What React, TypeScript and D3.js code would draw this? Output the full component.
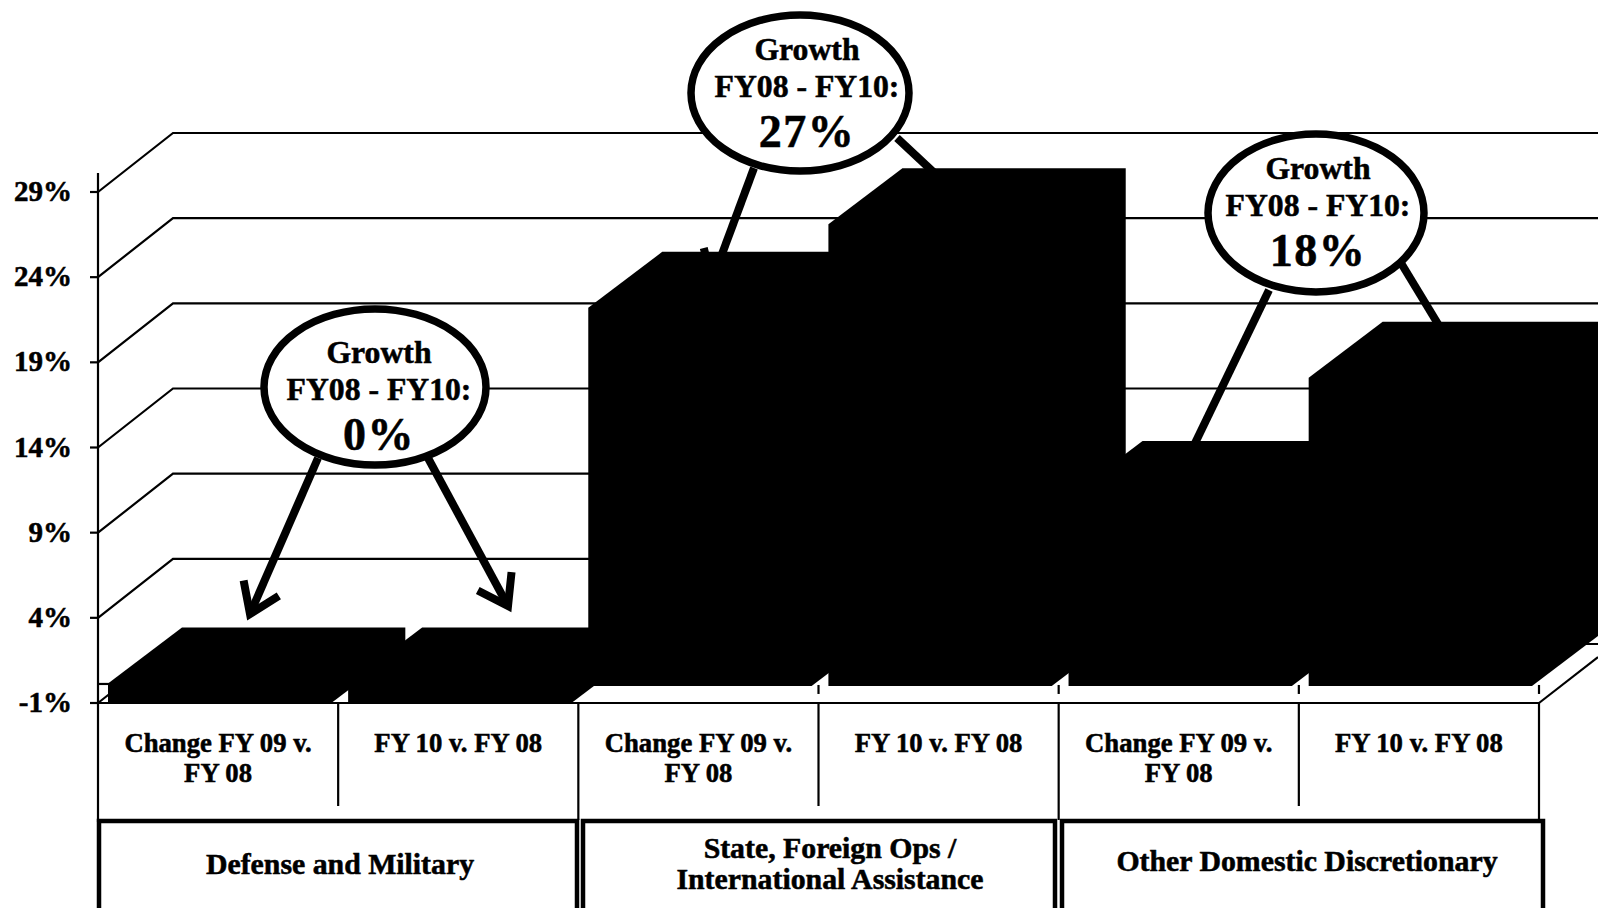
import React from "react";
import * as d3 from "d3";

const barCategories = ["def09", "def10", "state09", "state10", "other09", "other10"];
const barTops = [0.15, 0.15, 22.2, 27.1, 11.1, 18.1];
const barBases = [-1, -1, 0, 0, 0, 0];
const tickValues = [-1, 4, 9, 14, 19, 24, 29];
const categoryLabels = [
  ["Change FY 09 v.", "FY 08"],
  ["FY 10 v. FY 08"],
  ["Change FY 09 v.", "FY 08"],
  ["FY 10 v. FY 08"],
  ["Change FY 09 v.", "FY 08"],
  ["FY 10 v. FY 08"],
];
const groupNames = [
  ["Defense and Military"],
  ["State, Foreign Ops /", "International Assistance"],
  ["Other Domestic Discretionary"],
];
const growthLabels = ["0%", "27%", "18%"];

const W = 1598;
const H = 908;
const FONT = "'Liberation Serif', serif";
const DX = 74;
const DY = -56;
const TEXT_STROKE = 0.55;

const y = d3.scaleLinear().domain([-1, 29]).range([703, 192]);
const xBars = d3.scaleBand<string>().domain(barCategories).range([108, 1532]).paddingInner(0.07).paddingOuter(0);
const xCells = d3.scaleBand<string>().domain(barCategories).range([98, 1539]).padding(0);

const bubbles = [
  { cx: 375, cy: 387, rx: 111, ry: 78, tx: 4, ty: 9 },
  { cx: 800, cy: 93, rx: 109, ry: 78, tx: 7, ty: 0 },
  { cx: 1316, cy: 213, rx: 108, ry: 79, tx: 2, ty: -1 },
];
const arrows = [
  [[318, 458], [250, 614]],
  [[428, 458], [508, 606]],
  [[754, 168], [712, 281]],
  [[897, 138], [990, 225]],
  [[1269, 290], [1170, 495]],
  [[1401, 263], [1475, 385]],
];
const groupBoxes = [
  { x0: 99, x1: 577 },
  { x0: 583, x1: 1055 },
  { x0: 1062, x1: 1543 },
];
const groupLabelPos = [
  { x: 340, y: 865 },
  { x: 830, y: 849 },
  { x: 1307, y: 862 },
];

function barPath(i: number) {
  const x0 = xBars(barCategories[i])!;
  const x1 = x0 + xBars.bandwidth();
  const top = y(barTops[i]);
  const bottom = y(barBases[i]);
  const p = d3.path();
  p.moveTo(x0, bottom);
  p.lineTo(x0, top);
  p.lineTo(x0 + DX, top + DY);
  p.lineTo(x1 + DX, top + DY);
  p.lineTo(x1 + DX, bottom + DY);
  p.lineTo(x1, bottom);
  p.closePath();
  return p.toString();
}

function arrowHead(a: number[][]) {
  const [[x0, y0], [x1, y1]] = a;
  const ang = Math.atan2(y0 - y1, x0 - x1);
  const len = 34;
  const sp = 0.6;
  const p = d3.path();
  p.moveTo(x1 + len * Math.cos(ang + sp), y1 + len * Math.sin(ang + sp));
  p.lineTo(x1, y1);
  p.lineTo(x1 + len * Math.cos(ang - sp), y1 + len * Math.sin(ang - sp));
  return p.toString();
}

const textStyle = { stroke: "#000", strokeWidth: TEXT_STROKE };

export default function App() {
  return (
    <svg
      width={W}
      height={H}
      viewBox={`0 0 ${W} ${H}`}
      style={{ position: "absolute", left: 0, top: 0, display: "block", background: "#fff" }}
    >
      {/* back wall grid */}
      {tickValues.map((t) => (
        <g key={t} stroke="#000" strokeWidth={2.2} fill="none">
          <line x1={90} x2={98} y1={y(t)} y2={y(t)} />
          <path d={`M98,${y(t)} L${98 + DX + 1},${y(t) + DY - 3} L${W},${y(t) + DY - 3}`} />
        </g>
      ))}
      <line x1={98} x2={98} y1={173} y2={822} stroke="#000" strokeWidth={2.2} />
      <line x1={98} x2={110} y1={y(0) - 2} y2={y(0) - 2} stroke="#000" strokeWidth={2.2} />

      {/* tick labels */}
      {tickValues.map((t) => (
        <text
          key={t}
          x={72}
          y={y(t) + 9}
          textAnchor="end"
          fontFamily={FONT}
          fontWeight="bold"
          fontSize={29}
          fill="#000"
          style={textStyle}
        >
          {t}%
        </text>
      ))}

      {/* bars */}
      {barTops.map((_, i) => (
        <path key={barCategories[i]} d={barPath(i)} fill="#000" />
      ))}

      {/* floor ticks */}
      {barCategories.slice(2).map((c) => (
        <line
          key={c}
          x1={xCells(c)! + xCells.bandwidth()}
          x2={xCells(c)! + xCells.bandwidth()}
          y1={y(0) - 1}
          y2={y(0) + 8}
          stroke="#000"
          strokeWidth={2.2}
        />
      ))}

      {/* floor front and right edge */}
      <line x1={98} x2={1539} y1={703} y2={703} stroke="#000" strokeWidth={2.2} />
      <line x1={1539} x2={W} y1={703} y2={657} stroke="#000" strokeWidth={2.2} />

      {/* category cells */}
      {barCategories.map((c, i) => {
        const x = xCells(c)! + xCells.bandwidth();
        const long = i % 2 === 1;
        return <line key={c} x1={x} x2={x} y1={703} y2={long ? 820 : 806} stroke="#000" strokeWidth={2.2} />;
      })}
      {categoryLabels.map((lines, i) => (
        <text
          key={i}
          x={xCells(barCategories[i])! + xCells.bandwidth() / 2}
          fontFamily={FONT}
          fontWeight="bold"
          fontSize={26.7}
          textAnchor="middle"
          fill="#000"
          style={textStyle}
        >
          {lines.map((l, j) => (
            <tspan key={j} x={xCells(barCategories[i])! + xCells.bandwidth() / 2} y={752 + j * 30}>
              {l}
            </tspan>
          ))}
        </text>
      ))}

      {/* group boxes */}
      {groupBoxes.map((b, i) => (
        <path
          key={i}
          d={`M${b.x0},${H + 5} L${b.x0},821 L${b.x1},821 L${b.x1},${H + 5}`}
          fill="#fff"
          stroke="#000"
          strokeWidth={4.5}
        />
      ))}
      {groupNames.map((lines, i) => (
        <text
          key={i}
          fontFamily={FONT}
          fontWeight="bold"
          fontSize={29.8}
          textAnchor="middle"
          fill="#000"
          style={textStyle}
        >
          {lines.map((l, j) => (
            <tspan key={j} x={groupLabelPos[i].x} y={groupLabelPos[i].y + 9 + j * 31}>
              {l}
            </tspan>
          ))}
        </text>
      ))}

      {/* arrows */}
      {arrows.map((a, i) => (
        <g key={i} fill="none" stroke="#000" strokeWidth={8}>
          <line x1={a[0][0]} y1={a[0][1]} x2={a[1][0]} y2={a[1][1]} />
          <path d={arrowHead(a)} />
        </g>
      ))}

      {/* bubbles */}
      {bubbles.map((b, i) => (
        <g key={i}>
          <ellipse cx={b.cx} cy={b.cy} rx={b.rx} ry={b.ry} fill="#fff" stroke="#000" strokeWidth={7.5} />
          <text textAnchor="middle" fontFamily={FONT} fontWeight="bold" fill="#000" style={textStyle}>
            <tspan x={b.cx + b.tx} y={b.cy + b.ty - 33} fontSize={31.7}>Growth</tspan>
            <tspan x={b.cx + b.tx} y={b.cy + b.ty + 4} fontSize={31.7}>FY08 - FY10:</tspan>
            <tspan x={b.cx + b.tx} y={b.cy + b.ty + 54} fontSize={46} letterSpacing={1.5}>{growthLabels[i]}</tspan>
          </text>
        </g>
      ))}
    </svg>
  );
}
